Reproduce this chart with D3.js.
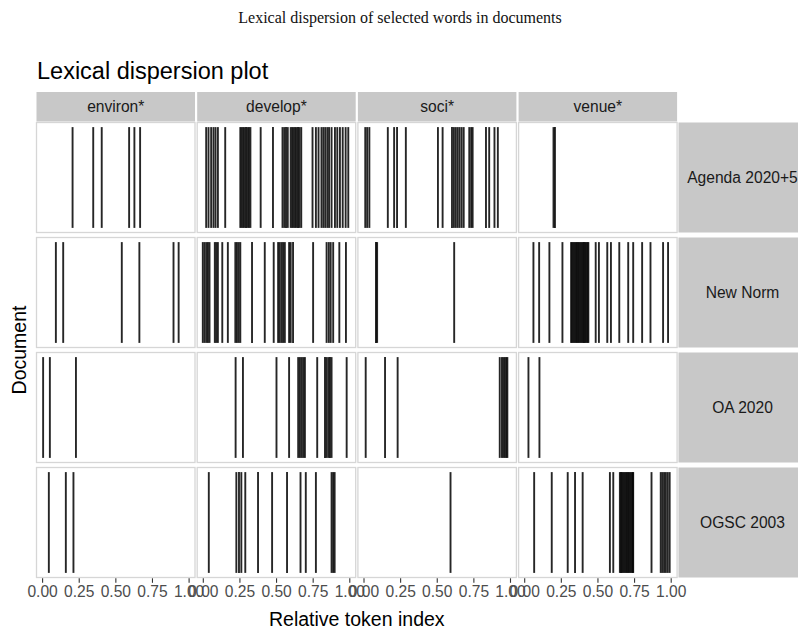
<!DOCTYPE html>
<html>
<head>
<meta charset="utf-8">
<script src="https://cdn.jsdelivr.net/npm/d3@7"></script>
<style>
  body { margin: 0; background: #ffffff; }
  svg { display: block; }
</style>
</head>
<body>
<svg id="chart" width="798" height="628"></svg>
<script>
// Documents (facet rows) and search terms (facet columns)
const documents = ["Agenda 2020+5", "New Norm", "OA 2020", "OGSC 2003"];
const words = ["environ*", "develop*", "soci*", "venue*"];

// Relative token positions of each hit, one list per document (same order as `documents`)
const environHits = [
  [0.208, 0.349, 0.407, 0.594, 0.630, 0.669],
  [0.094, 0.144, 0.544, 0.664, 0.897, 0.932],
  [0.007, 0.053, 0.231],
  [0.046, 0.162, 0.214]
];
const developHits = [
  [0.023, 0.039, 0.057, 0.073, 0.087, 0.103, 0.153, 0.256, 0.265, 0.275, 0.285, 0.295, 0.305, 0.315, 0.325,
   0.395, 0.479, 0.544, 0.556, 0.568, 0.580, 0.600, 0.610, 0.620, 0.630, 0.640, 0.650, 0.660, 0.672,
   0.749, 0.772, 0.790, 0.810, 0.823, 0.836, 0.850, 0.862, 0.879, 0.902, 0.918, 0.936, 0.955, 0.975, 0.993],
  [0.000, 0.012, 0.024, 0.035, 0.046, 0.082, 0.092, 0.103, 0.133, 0.171, 0.222, 0.233, 0.245, 0.256,
   0.336, 0.423, 0.484, 0.514, 0.525, 0.537, 0.548, 0.560, 0.589, 0.600, 0.616, 0.753,
   0.845, 0.860, 0.873, 0.890, 0.932, 0.977],
  [0.224, 0.274, 0.503, 0.589, 0.651, 0.663, 0.675, 0.686, 0.697, 0.781, 0.834, 0.845, 0.857, 0.868, 0.879, 0.982],
  [0.041, 0.229, 0.247, 0.263, 0.290, 0.377, 0.473, 0.575, 0.667, 0.703, 0.772, 0.879, 0.890, 0.900]
];
const sociHits = [
  [0.012, 0.025, 0.040, 0.166, 0.209, 0.229, 0.289, 0.508, 0.540, 0.604, 0.617, 0.630, 0.643, 0.656, 0.670,
   0.684, 0.722, 0.735, 0.745, 0.836, 0.858, 0.894, 0.917],
  [0.085, 0.093, 0.619],
  [0.015, 0.147, 0.233, 0.930, 0.945, 0.955, 0.965, 0.975, 0.982],
  [0.594]
];
const venueHits = [
  [0.200, 0.210],
  [0.063, 0.102, 0.172, 0.261, 0.320, 0.328, 0.336, 0.344, 0.352, 0.360, 0.368, 0.376, 0.384, 0.392, 0.400,
   0.408, 0.416, 0.424, 0.432, 0.438, 0.488, 0.510, 0.567, 0.592, 0.649, 0.710, 0.744, 0.805, 0.862, 0.948, 0.982],
  [0.029, 0.104],
  [0.068, 0.188, 0.297, 0.347, 0.399, 0.585, 0.608, 0.653, 0.661, 0.669, 0.677, 0.685, 0.693, 0.701, 0.709,
   0.717, 0.725, 0.733, 0.741, 0.744, 0.869, 0.932, 0.943, 0.955, 0.967, 0.980, 0.993]
];

// Axis ticks shared by every column
const tickValues = [0, 0.25, 0.5, 0.75, 1];
const tickLabels = ["0.00", "0.25", "0.50", "0.75", "1.00"];

// Long-format table: one row per hit
const hitsByWord = { "environ*": environHits, "develop*": developHits, "soci*": sociHits, "venue*": venueHits };
const hits = [];
words.forEach(w => {
  hitsByWord[w].forEach((list, di) => {
    list.forEach(v => hits.push({ word: w, document: documents[di], position: v }));
  });
});

const svg = d3.select("#chart");
const sans = "'Liberation Sans', Arial, Helvetica, sans-serif";

// Facet grid
const colBand = d3.scaleBand().domain(words).range([36.5, 677.1]).paddingInner(0.0137).paddingOuter(0);
const rowBand = d3.scaleBand().domain(documents).range([122.5, 577.5]).paddingInner(0.0435).paddingOuter(0);
const xIn = d3.scaleLinear().domain([0, 1]).range([5.6, colBand.bandwidth() - 6.4]);

// Figure caption
svg.append("text")
  .attr("x", 400).attr("y", 23)
  .attr("text-anchor", "middle")
  .attr("font-family", "'Liberation Serif', 'DejaVu Serif', serif")
  .attr("font-size", 16)
  .attr("fill", "#111")
  .text("Lexical dispersion of selected words in documents");

// Plot title
svg.append("text")
  .attr("x", 37).attr("y", 79)
  .attr("font-family", sans)
  .attr("font-size", 23.5)
  .attr("fill", "#000")
  .text("Lexical dispersion plot");

// Column strips
const stripTop = 92, stripH = 29.5;
const colStrips = svg.append("g").selectAll("g").data(words).join("g")
  .attr("transform", d => `translate(${colBand(d)},${stripTop})`);
colStrips.append("rect")
  .attr("width", colBand.bandwidth()).attr("height", stripH)
  .attr("fill", "#c8c8c8");
colStrips.append("text")
  .attr("x", colBand.bandwidth() / 2).attr("y", stripH / 2 + 5.5)
  .attr("text-anchor", "middle")
  .attr("font-family", sans).attr("font-size", 15.6)
  .attr("fill", "#1a1a1a")
  .text(d => d);

// Row strips
const rowStripX = 678.5, rowStripW = 128;
const rowStrips = svg.append("g").selectAll("g").data(documents).join("g")
  .attr("transform", d => `translate(${rowStripX},${rowBand(d)})`);
rowStrips.append("rect")
  .attr("width", rowStripW).attr("height", rowBand.bandwidth())
  .attr("fill", "#c8c8c8");
rowStrips.append("text")
  .attr("x", rowStripW / 2).attr("y", rowBand.bandwidth() / 2 + 5.5)
  .attr("text-anchor", "middle")
  .attr("font-family", sans).attr("font-size", 15.6)
  .attr("fill", "#1a1a1a")
  .text(d => d);

// Panels
const cells = [];
documents.forEach(doc => words.forEach(w => cells.push({ doc, word: w })));
const panels = svg.append("g").selectAll("g").data(cells).join("g")
  .attr("transform", d => `translate(${colBand(d.word)},${rowBand(d.doc)})`);
panels.append("rect")
  .attr("width", colBand.bandwidth()).attr("height", rowBand.bandwidth())
  .attr("fill", "#ffffff")
  .attr("stroke", "#d6d6d6").attr("stroke-width", 1.3);

// Hit lines
const inset = 4.6;
panels.each(function (cell) {
  const data = hits.filter(h => h.word === cell.word && h.document === cell.doc);
  d3.select(this).append("g").selectAll("line").data(data).join("line")
    .attr("x1", d => xIn(d.position)).attr("x2", d => xIn(d.position))
    .attr("y1", inset).attr("y2", rowBand.bandwidth() - inset)
    .attr("stroke", "#000").attr("stroke-opacity", 0.85)
    .attr("stroke-width", 1.9);
});

// Bottom axes, one per column
words.forEach(w => {
  const axis = d3.axisBottom(xIn).tickValues(tickValues)
    .tickFormat((d, i) => tickLabels[i]).tickSize(4.5).tickPadding(3);
  const g = svg.append("g")
    .attr("transform", `translate(${colBand(w)},${rowBand.range()[1] + 0.8})`)
    .call(axis);
  g.select(".domain").remove();
  g.selectAll(".tick line").attr("stroke", "#333").attr("stroke-width", 1.1);
  g.selectAll(".tick text")
    .attr("font-family", sans).attr("font-size", 15.6)
    .attr("fill", "#4d4d4d");
});

// Axis titles
svg.append("text")
  .attr("x", (colBand.range()[0] + colBand.range()[1]) / 2).attr("y", 625.5)
  .attr("text-anchor", "middle")
  .attr("font-family", sans).attr("font-size", 19.5)
  .attr("fill", "#000")
  .text("Relative token index");

svg.append("text")
  .attr("transform", `translate(26,${(rowBand.range()[0] + rowBand.range()[1]) / 2}) rotate(-90)`)
  .attr("text-anchor", "middle")
  .attr("font-family", sans).attr("font-size", 19.5)
  .attr("fill", "#000")
  .text("Document");
</script>
</body>
</html>
